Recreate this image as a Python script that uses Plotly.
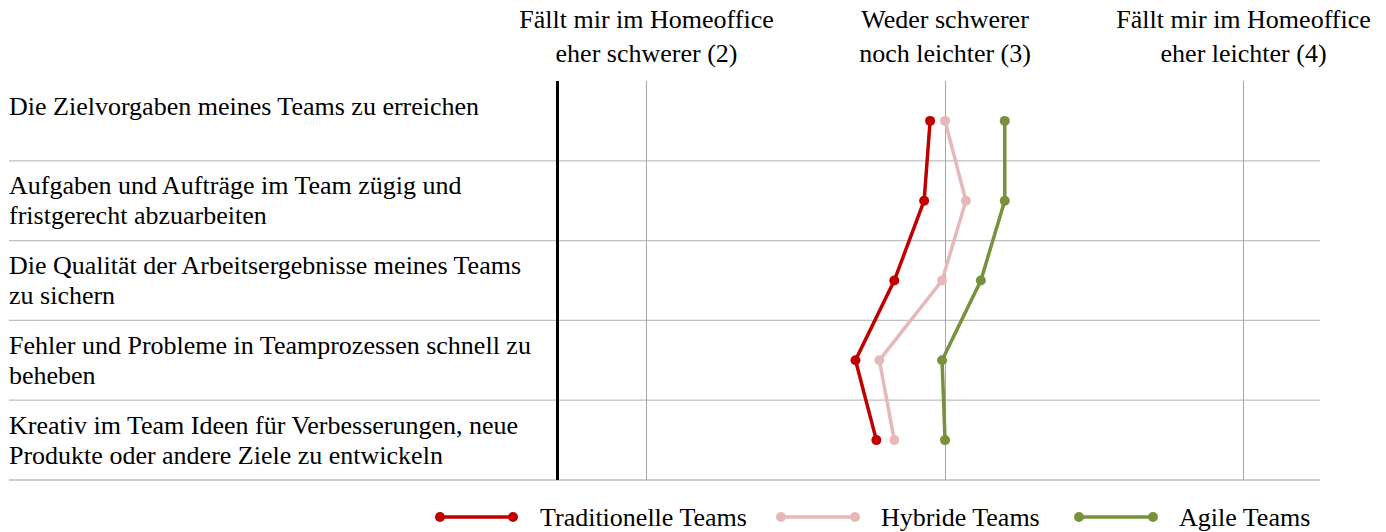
import plotly.graph_objects as go

categories = [
    "Die Zielvorgaben meines Teams zu erreichen",
    "Aufgaben und Aufträge im Team zügig und<br>fristgerecht abzuarbeiten",
    "Die Qualität der Arbeitsergebnisse meines Teams<br>zu sichern",
    "Fehler und Probleme in Teamprozessen schnell zu<br>beheben",
    "Kreativ im Team Ideen für Verbesserungen, neue<br>Produkte oder andere Ziele zu entwickeln",
]
traditionelle = [2.95, 2.93, 2.83, 2.70, 2.77]
hybride = [3.00, 3.07, 2.99, 2.78, 2.83]
agile = [3.20, 3.20, 3.12, 2.99, 3.00]
series_names = ["Traditionelle Teams", "Hybride Teams", "Agile Teams"]
series_colors = ["#C00000", "#E6B9B8", "#76923C"]
tick_vals = [2, 3, 4]
tick_texts = [
    "Fällt mir im Homeoffice<br>eher schwerer (2)",
    "Weder schwerer<br>noch leichter (3)",
    "Fällt mir im Homeoffice<br>eher leichter (4)",
]

W, H = 1386, 532
L, R, T, B = 559, 66, 81, 52
PW, PH = W - L - R, H - T - B
FONT = "Liberation Serif, Times New Roman, serif"
FS = 26

def px_x(p):
    return (p - L) / PW

def px_y(p):
    return (H - B - p) / PH

rows = list(range(len(categories)))
fig = go.Figure()
for name, vals, col in zip(series_names, [traditionelle, hybride, agile], series_colors):
    fig.add_trace(go.Scatter(
        x=vals, y=rows, mode="lines+markers", name=name,
        line=dict(color=col, width=3.5),
        marker=dict(color=col, size=10),
        showlegend=False,
    ))

shapes = []
annotations = []
n = len(categories)
# row separators
for k in range(n):
    yp = (n - 1 - k) / n
    shapes.append(dict(type="line", xref="paper", yref="paper",
                       x0=px_x(9), x1=1, y0=yp, y1=yp,
                       line=dict(color="#BFBFBF", width=1.3), layer="below"))
# row labels (one annotation per text line, for Word-like line spacing)
for k, cat in enumerate(categories):
    ytop = (n - k) / n
    for j, line in enumerate(cat.split("<br>")):
        annotations.append(dict(text=line, xref="paper", yref="paper",
                                x=px_x(7), y=ytop, xanchor="left", yanchor="middle",
                                align="left", showarrow=False, yshift=-(25 + 30 * j),
                                font=dict(family=FONT, size=FS, color="black")))

# custom legend
leg_y = px_y(517)
leg_items = [(440, 513, 541), (781, 855, 882), (1079, 1153, 1180)]
for (x0, x1, xt), name, col in zip(leg_items, series_names, series_colors):
    shapes.append(dict(type="line", xref="paper", yref="paper",
                       x0=px_x(x0), x1=px_x(x1), y0=leg_y, y1=leg_y,
                       line=dict(color=col, width=3.5)))
    for xc in (x0, x1):
        shapes.append(dict(type="circle", xref="paper", yref="paper",
                           xsizemode="pixel", ysizemode="pixel",
                           xanchor=px_x(xc), yanchor=leg_y,
                           x0=-5, x1=5, y0=-5, y1=5,
                           fillcolor=col, line=dict(color=col, width=0)))
    annotations.append(dict(text=name, xref="paper", yref="paper",
                            x=px_x(xt - 3), y=leg_y, xanchor="left", yanchor="middle",
                            showarrow=False,
                            font=dict(family=FONT, size=FS, color="black")))

fig.update_layout(
    width=W, height=H,
    margin=dict(l=L, r=R, t=T, b=B, pad=0, autoexpand=False),
    paper_bgcolor="white", plot_bgcolor="white",
    font=dict(family=FONT, size=FS, color="black"),
    showlegend=False,
    shapes=shapes, annotations=annotations,
    xaxis=dict(range=[1.7069, 4.256], side="top", tickmode="array",
               tickvals=tick_vals, ticktext=tick_texts, automargin=False,
               showgrid=True, gridcolor="#A6A6A6", gridwidth=1,
               zeroline=False, showline=False,
               ticks="outside", ticklen=8, tickcolor="rgba(0,0,0,0)",
               tickfont=dict(family=FONT, size=FS, color="black")),
    yaxis=dict(range=[n - 0.5, -0.5], showticklabels=False, showgrid=False,
               automargin=False,
               zeroline=False, showline=True, linecolor="black", linewidth=2.5,
               ticks=""),
)

fig.write_html("out.html", config={"displayModeBar": False},
               post_script="document.body.style.margin='0';document.body.style.overflow='hidden';")
